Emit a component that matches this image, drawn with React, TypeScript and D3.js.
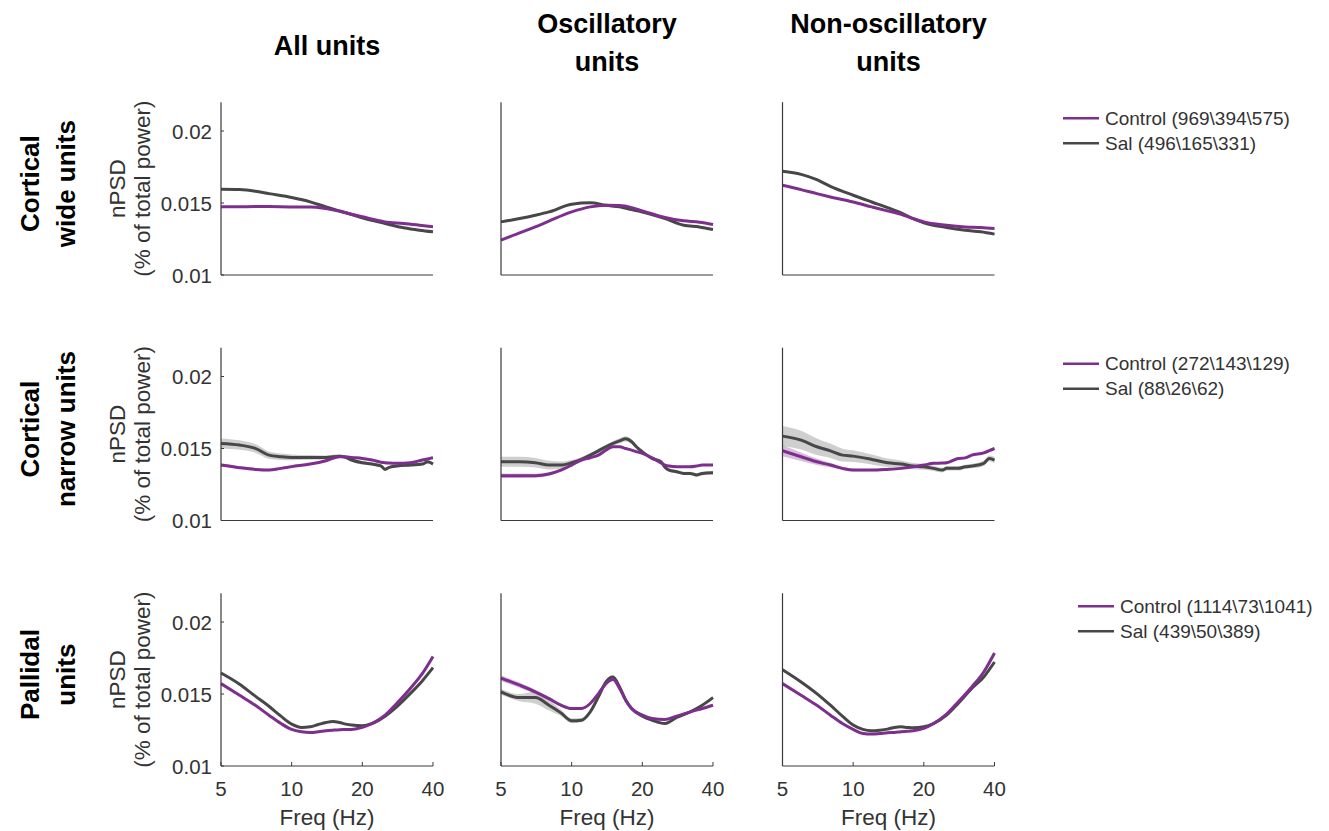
import React from "react";
import * as d3 from "d3";

// ---------- labels ----------
const colTitles = [["All units"], ["Oscillatory", "units"], ["Non-oscillatory", "units"]];
const rowTitles = [["Cortical", "wide units"], ["Cortical", "narrow units"], ["Pallidal", "units"]];
const legendControl = ["Control (969\\394\\575)", "Control (272\\143\\129)", "Control (1114\\73\\1041)"];
const legendSal = ["Sal (496\\165\\331)", "Sal (88\\26\\62)", "Sal (439\\50\\389)"];
const xTicks = [5, 10, 20, 40];
const yTicks = [0.01, 0.015, 0.02];
const yTickLabels = ["0.01", "0.015", "0.02"];
const xDomain = [5, 40];
const yDomain = [0.01, 0.022];

// ---------- row 1: cortical wide ----------
const cwAllFreq = [5, 6, 7, 8, 10, 12, 14, 16, 18, 20, 25, 30, 35, 40];
const cwAllSal = [0.01595, 0.01593, 0.01582, 0.01565, 0.01538, 0.01508, 0.01473, 0.01445, 0.0142, 0.01397, 0.01358, 0.01328, 0.01311, 0.013];
const cwAllSalSem = [0.00005, 0.00005, 0.00005, 0.00005, 0.00005, 0.00005, 0.00005, 0.00005, 0.00005, 0.00005, 0.00005, 0.00005, 0.00005, 0.00005];
const cwAllCtl = [0.01473, 0.01474, 0.01475, 0.01475, 0.01473, 0.01473, 0.01461, 0.01443, 0.01422, 0.01404, 0.01369, 0.01358, 0.01346, 0.01335];
const cwAllCtlSem = [0.00004, 0.00004, 0.00004, 0.00004, 0.00004, 0.00004, 0.00004, 0.00004, 0.00004, 0.00004, 0.00004, 0.00004, 0.00004, 0.00004];

const cwOscFreq = [5, 6, 7, 8, 10, 12, 14, 16, 18, 20, 25, 30, 35, 40];
const cwOscSal = [0.01369, 0.01392, 0.01415, 0.01438, 0.01491, 0.01501, 0.01484, 0.01473, 0.01454, 0.01438, 0.01392, 0.01346, 0.01334, 0.01316];
const cwOscSalSem = [0.00007, 0.00007, 0.00006, 0.00006, 0.00006, 0.00006, 0.00006, 0.00006, 0.00006, 0.00006, 0.00006, 0.00006, 0.00006, 0.00006];
const cwOscCtl = [0.01242, 0.01293, 0.01334, 0.01374, 0.01438, 0.01473, 0.01484, 0.01482, 0.01468, 0.01445, 0.01399, 0.01376, 0.01367, 0.01351];
const cwOscCtlSem = [0.00005, 0.00005, 0.00005, 0.00005, 0.00005, 0.00005, 0.00005, 0.00005, 0.00005, 0.00005, 0.00005, 0.00005, 0.00005, 0.00005];

const cwNonFreq = [5, 6, 7, 8, 10, 12, 14, 16, 18, 20, 25, 30, 35, 40];
const cwNonSal = [0.0172, 0.01699, 0.01662, 0.01616, 0.01554, 0.01507, 0.01468, 0.01431, 0.01392, 0.01362, 0.0133, 0.01311, 0.013, 0.01284];
const cwNonSalSem = [0.00006, 0.00006, 0.00006, 0.00006, 0.00006, 0.00006, 0.00006, 0.00006, 0.00006, 0.00006, 0.00006, 0.00006, 0.00006, 0.00006];
const cwNonCtl = [0.01623, 0.01593, 0.01565, 0.01542, 0.01507, 0.01473, 0.01445, 0.01422, 0.01392, 0.01369, 0.01346, 0.01334, 0.0133, 0.01323];
const cwNonCtlSem = [0.00004, 0.00004, 0.00004, 0.00004, 0.00004, 0.00004, 0.00004, 0.00004, 0.00004, 0.00004, 0.00004, 0.00004, 0.00004, 0.00004];

// ---------- row 2: cortical narrow ----------
const cnAllFreq = [5, 6, 7, 8, 9, 10, 12, 14, 16, 17, 18, 20, 22, 24, 25, 26, 28, 32, 36, 38, 40];
const cnAllSal = [0.01535, 0.01524, 0.01501, 0.01454, 0.01443, 0.01438, 0.01438, 0.01438, 0.01447, 0.01438, 0.0142, 0.01401, 0.01392, 0.01379, 0.01355, 0.01369, 0.01378, 0.01385, 0.01392, 0.01408, 0.01392];
const cnAllSalSem = [0.00035, 0.00033, 0.0003, 0.00025, 0.00022, 0.0002, 0.00016, 0.00014, 0.00013, 0.00012, 0.00012, 0.00012, 0.0001, 0.0001, 0.0001, 0.0001, 0.0001, 0.0001, 0.0001, 0.00012, 0.00013];
const cnAllCtl = [0.01385, 0.01367, 0.01355, 0.0135, 0.01362, 0.01374, 0.01392, 0.01415, 0.01443, 0.01443, 0.01438, 0.01431, 0.0142, 0.01405, 0.01401, 0.01399, 0.01397, 0.01401, 0.0142, 0.01428, 0.01436];
const cnAllCtlSem = [0.0001, 0.0001, 0.00009, 0.00008, 0.00008, 0.00008, 0.00007, 0.00007, 0.00007, 0.00007, 0.00007, 0.00007, 0.00007, 0.00007, 0.00007, 0.00007, 0.00007, 0.00007, 0.00007, 0.00008, 0.00008];

const cnOscFreq = [5, 6, 7, 8, 9, 10, 11, 12, 13, 14, 15, 16, 17, 18, 19, 20, 22, 24, 25, 26, 28, 30, 32, 34, 36, 40];
const cnOscSal = [0.01408, 0.01408, 0.01401, 0.01385, 0.01385, 0.01401, 0.01424, 0.01454, 0.01484, 0.01512, 0.01535, 0.01553, 0.01567, 0.01547, 0.01507, 0.01477, 0.01431, 0.01408, 0.01369, 0.0135, 0.01339, 0.01327, 0.01327, 0.01316, 0.01327, 0.01332];
const cnOscSalSem = [0.00035, 0.00035, 0.00033, 0.0003, 0.00025, 0.0002, 0.00017, 0.00015, 0.00015, 0.00015, 0.00016, 0.00018, 0.00018, 0.00017, 0.00015, 0.00014, 0.00012, 0.00012, 0.00012, 0.00012, 0.00011, 0.00011, 0.00011, 0.00012, 0.00012, 0.00012];
const cnOscCtl = [0.01311, 0.01311, 0.01311, 0.01323, 0.0135, 0.01385, 0.0142, 0.01436, 0.01454, 0.01489, 0.01512, 0.01512, 0.015, 0.01489, 0.01477, 0.01466, 0.01436, 0.014, 0.01385, 0.01378, 0.01373, 0.01373, 0.01373, 0.01378, 0.01385, 0.01385];
const cnOscCtlSem = [0.00016, 0.00015, 0.00014, 0.00012, 0.0001, 0.00008, 0.00007, 0.00006, 0.00006, 0.00006, 0.00006, 0.00006, 0.00006, 0.00006, 0.00006, 0.00006, 0.00006, 0.00006, 0.00006, 0.00006, 0.00006, 0.00006, 0.00006, 0.00006, 0.00006, 0.00007];

const cnNonFreq = [5, 6, 7, 8, 9, 10, 12, 14, 16, 18, 20, 22, 24, 25, 28, 30, 32, 36, 38, 40];
const cnNonSal = [0.01586, 0.01558, 0.01512, 0.01484, 0.01454, 0.01447, 0.01424, 0.01401, 0.01392, 0.01378, 0.01373, 0.01362, 0.0135, 0.01362, 0.01362, 0.01373, 0.01378, 0.01397, 0.01431, 0.0142];
const cnNonSalSem = [0.0007, 0.00065, 0.00058, 0.0005, 0.00045, 0.0004, 0.00035, 0.0003, 0.00025, 0.00022, 0.0002, 0.00018, 0.00016, 0.00015, 0.00015, 0.00015, 0.00016, 0.00018, 0.0002, 0.00022];
const cnNonCtl = [0.01484, 0.01443, 0.01408, 0.01385, 0.01362, 0.0135, 0.0135, 0.01355, 0.01362, 0.01373, 0.01385, 0.01397, 0.01399, 0.01401, 0.01431, 0.01435, 0.01454, 0.0147, 0.01485, 0.015];
const cnNonCtlSem = [0.00038, 0.0003, 0.00022, 0.00016, 0.00012, 0.0001, 0.00008, 0.00007, 0.00007, 0.00007, 0.00007, 0.00007, 0.00007, 0.00007, 0.00007, 0.00007, 0.00007, 0.00007, 0.00008, 0.00009];

// ---------- row 3: pallidal ----------
const paAllFreq = [5, 6, 7, 8, 9, 10, 11, 12, 13, 14, 15, 16, 17, 18, 20, 22, 25, 28, 32, 36, 40];
const paAllSal = [0.01646, 0.01568, 0.01485, 0.01415, 0.01346, 0.01291, 0.01268, 0.01272, 0.01288, 0.01302, 0.01309, 0.01302, 0.01291, 0.01284, 0.01279, 0.01295, 0.01346, 0.01411, 0.01503, 0.01591, 0.01683];
const paAllSalSem = [0.00005, 0.00005, 0.00005, 0.00005, 0.00005, 0.00005, 0.00005, 0.00005, 0.00005, 0.00005, 0.00005, 0.00005, 0.00005, 0.00005, 0.00005, 0.00005, 0.00005, 0.00005, 0.00005, 0.00005, 0.00005];
const paAllCtl = [0.01572, 0.01491, 0.01422, 0.01353, 0.01295, 0.01254, 0.01238, 0.01233, 0.01238, 0.01245, 0.01249, 0.01252, 0.01253, 0.01254, 0.01268, 0.01295, 0.01353, 0.01434, 0.01538, 0.01641, 0.01761];
const paAllCtlSem = [0.00004, 0.00004, 0.00004, 0.00004, 0.00004, 0.00004, 0.00004, 0.00004, 0.00004, 0.00004, 0.00004, 0.00004, 0.00004, 0.00004, 0.00004, 0.00004, 0.00004, 0.00004, 0.00004, 0.00004, 0.00004];

const paOscFreq = [5, 6, 7, 8, 9, 10, 11, 12, 13, 14, 15, 16, 17, 18, 20, 22, 25, 28, 32, 36, 40];
const paOscSal = [0.01515, 0.01475, 0.01475, 0.01422, 0.01369, 0.01314, 0.01318, 0.01376, 0.0148, 0.01584, 0.01618, 0.01549, 0.01457, 0.01399, 0.01346, 0.01318, 0.01295, 0.01337, 0.01376, 0.01422, 0.01475];
const paOscSalSem = [0.0002, 0.00025, 0.00042, 0.00036, 0.00022, 0.00017, 0.00015, 0.00013, 0.00012, 0.00012, 0.00012, 0.00012, 0.0001, 0.00009, 0.00008, 0.00008, 0.0001, 0.00009, 0.00009, 0.0001, 0.00013];
const paOscCtl = [0.01611, 0.01561, 0.01515, 0.01468, 0.01422, 0.01399, 0.01399, 0.01434, 0.01503, 0.01572, 0.016, 0.01538, 0.01457, 0.01399, 0.01353, 0.0133, 0.01323, 0.01346, 0.01376, 0.01399, 0.01422];
const paOscCtlSem = [0.0002, 0.00018, 0.00015, 0.00013, 0.00011, 0.0001, 0.00009, 0.00008, 0.00008, 0.00008, 0.00008, 0.00008, 0.00007, 0.00007, 0.00007, 0.00007, 0.00007, 0.00007, 0.00007, 0.00007, 0.00008];

const paNonFreq = [5, 6, 7, 8, 9, 10, 11, 12, 13, 14, 15, 16, 17, 18, 20, 22, 25, 28, 32, 36, 40];
const paNonSal = [0.01669, 0.01584, 0.01503, 0.01422, 0.01346, 0.01284, 0.01254, 0.01245, 0.01249, 0.01256, 0.01268, 0.01272, 0.01268, 0.01265, 0.01272, 0.01295, 0.01353, 0.01434, 0.01538, 0.01618, 0.01722];
const paNonSalSem = [0.00005, 0.00005, 0.00005, 0.00005, 0.00005, 0.00005, 0.00005, 0.00005, 0.00005, 0.00005, 0.00005, 0.00005, 0.00005, 0.00005, 0.00005, 0.00005, 0.00005, 0.00005, 0.00005, 0.00005, 0.00005];
const paNonCtl = [0.01572, 0.01491, 0.01422, 0.01353, 0.01295, 0.01254, 0.01226, 0.01222, 0.01226, 0.01231, 0.01233, 0.01238, 0.01241, 0.01245, 0.01261, 0.01295, 0.0136, 0.01445, 0.01549, 0.01653, 0.01785];
const paNonCtlSem = [0.00004, 0.00004, 0.00004, 0.00004, 0.00004, 0.00004, 0.00004, 0.00004, 0.00004, 0.00004, 0.00004, 0.00004, 0.00004, 0.00004, 0.00004, 0.00004, 0.00004, 0.00004, 0.00004, 0.00004, 0.00004];

const mk = (freq: number[], sal: number[], salSem: number[], ctl: number[], ctlSem: number[]) => ({ freq, sal, salSem, ctl, ctlSem });

const panels = [
  [mk(cwAllFreq, cwAllSal, cwAllSalSem, cwAllCtl, cwAllCtlSem), mk(cwOscFreq, cwOscSal, cwOscSalSem, cwOscCtl, cwOscCtlSem), mk(cwNonFreq, cwNonSal, cwNonSalSem, cwNonCtl, cwNonCtlSem)],
  [mk(cnAllFreq, cnAllSal, cnAllSalSem, cnAllCtl, cnAllCtlSem), mk(cnOscFreq, cnOscSal, cnOscSalSem, cnOscCtl, cnOscCtlSem), mk(cnNonFreq, cnNonSal, cnNonSalSem, cnNonCtl, cnNonCtlSem)],
  [mk(paAllFreq, paAllSal, paAllSalSem, paAllCtl, paAllCtlSem), mk(paOscFreq, paOscSal, paOscSalSem, paOscCtl, paOscCtlSem), mk(paNonFreq, paNonSal, paNonSalSem, paNonCtl, paNonCtlSem)],
];

const CTL = "#7E2F8E";
const SAL = "#474747";
const AX = "#3a3a3a";
const TXT = "#333333";
const SANS = "Arial, 'Liberation Sans', Helvetica, sans-serif";
const BOLD = "Arial, 'Liberation Sans', Helvetica, sans-serif";

const colLeft = [221, 501, 782.5];
const rowBottom = [275, 520.5, 766];
const PW = 212;
const PH = 172.8;
const legendX = [1063, 1063, 1078];

function Panel({ r, c, d }: { r: number; c: number; d: any }) {
  const x = d3.scaleLog().domain(xDomain).range([colLeft[c], colLeft[c] + PW]);
  const y = d3.scaleLinear().domain(yDomain).range([rowBottom[r], rowBottom[r] - PH]);
  const pts = (m: number[], s: number[]) => d.freq.map((f: number, i: number) => ({ f, m: m[i], s: s[i] }));
  const line = d3.line<any>().x((p) => x(p.f)).y((p) => y(p.m)).curve(d3.curveMonotoneX);
  const area = d3
    .area<any>()
    .x((p) => x(p.f))
    .y0((p) => y(p.m - p.s))
    .y1((p) => y(p.m + p.s))
    .curve(d3.curveMonotoneX);
  const salPts = pts(d.sal, d.salSem);
  const ctlPts = pts(d.ctl, d.ctlSem);
  const x0 = colLeft[c];
  const yb = rowBottom[r];
  return (
    <g>
      <path d={area(salPts) || ""} fill="#8c8c8c" fillOpacity={0.42} stroke="none" />
      <path d={line(salPts) || ""} fill="none" stroke={SAL} strokeWidth={3} />
      <path d={area(ctlPts) || ""} fill={CTL} fillOpacity={0.3} stroke="none" />
      <path d={line(ctlPts) || ""} fill="none" stroke={CTL} strokeWidth={3} />
      <line x1={x0} x2={x0} y1={yb - PH} y2={yb} stroke={AX} strokeWidth={1.2} />
      <line x1={x0} x2={x0 + PW} y1={yb} y2={yb} stroke={AX} strokeWidth={1.2} />
      {c === 0 &&
        yTicks.map((t, i) => (
          <g key={"y" + i}>
            <line x1={x0} x2={x0 + 3} y1={y(t)} y2={y(t)} stroke={AX} strokeWidth={1} />
            <text x={x0 - 9} y={y(t)} textAnchor="end" dominantBaseline="central" fontFamily={SANS} fontSize={20.5} fill={TXT}>
              {yTickLabels[i]}
            </text>
          </g>
        ))}
      {r === 2 &&
        xTicks.map((t, i) => (
          <g key={"x" + i}>
            <line x1={x(t)} x2={x(t)} y1={yb} y2={yb - 4} stroke={AX} strokeWidth={1} />
            <text x={x(t)} y={yb + 22} textAnchor="middle" dominantBaseline="central" fontFamily={SANS} fontSize={20.5} fill={TXT}>
              {String(t)}
            </text>
          </g>
        ))}
      {r === 2 && (
        <text x={x0 + PW / 2} y={yb + 51} textAnchor="middle" dominantBaseline="central" fontFamily={SANS} fontSize={22.5} fill={TXT}>
          Freq (Hz)
        </text>
      )}
      {c === 0 && (
        <g transform={`translate(0, ${yb - PH / 2})`}>
          <text transform="translate(117,0) rotate(-90)" textAnchor="middle" dominantBaseline="central" fontFamily={SANS} fontSize={22.5} fill={TXT}>
            nPSD
          </text>
          <text transform="translate(142,0) rotate(-90)" textAnchor="middle" dominantBaseline="central" fontFamily={SANS} fontSize={22.5} fill={TXT}>
            (% of total power)
          </text>
        </g>
      )}
    </g>
  );
}

export default function App() {
  const W = 1329;
  const H = 831;
  return (
    <svg width={W} height={H} style={{ position: "absolute", left: 0, top: 0, background: "#fff" }}>
      <rect x={0} y={0} width={W} height={H} fill="#fff" />
      {colTitles.map((lines, c) => {
        const cx = colLeft[c] + PW / 2;
        const ys = lines.length === 1 ? [55] : [33, 71];
        return lines.map((s, k) => (
          <text key={c + "-" + k} x={cx} y={ys[k]} textAnchor="middle" fontFamily={BOLD} fontWeight="bold" fontSize={27} fill="#000">
            {s}
          </text>
        ));
      })}
      {rowTitles.map((lines, r) => {
        const cy = rowBottom[r] - PH / 2 - 5;
        return lines.map((s, k) => (
          <text
            key={"r" + r + k}
            transform={`translate(${k === 0 ? 30 : 66}, ${cy}) rotate(-90)`}
            textAnchor="middle"
            dominantBaseline="central"
            fontFamily={BOLD}
            fontWeight="bold"
            fontSize={26}
            fill="#000"
          >
            {s}
          </text>
        ));
      })}
      {panels.map((row, r) => row.map((d, c) => <Panel key={r + "-" + c} r={r} c={c} d={d} />))}
      {legendControl.map((lab, r) => {
        const lx = legendX[r];
        const ly = rowBottom[r] - PH + (r === 2 ? 13 : 16);
        return (
          <g key={"lg" + r}>
            <line x1={lx} x2={lx + 36} y1={ly} y2={ly} stroke={CTL} strokeWidth={2.6} />
            <text x={lx + 42} y={ly} dominantBaseline="central" fontFamily={SANS} fontSize={19} fill={TXT}>
              {lab}
            </text>
            <line x1={lx} x2={lx + 36} y1={ly + 25} y2={ly + 25} stroke={SAL} strokeWidth={2.6} />
            <text x={lx + 42} y={ly + 25} dominantBaseline="central" fontFamily={SANS} fontSize={19} fill={TXT}>
              {legendSal[r]}
            </text>
          </g>
        );
      })}
    </svg>
  );
}
